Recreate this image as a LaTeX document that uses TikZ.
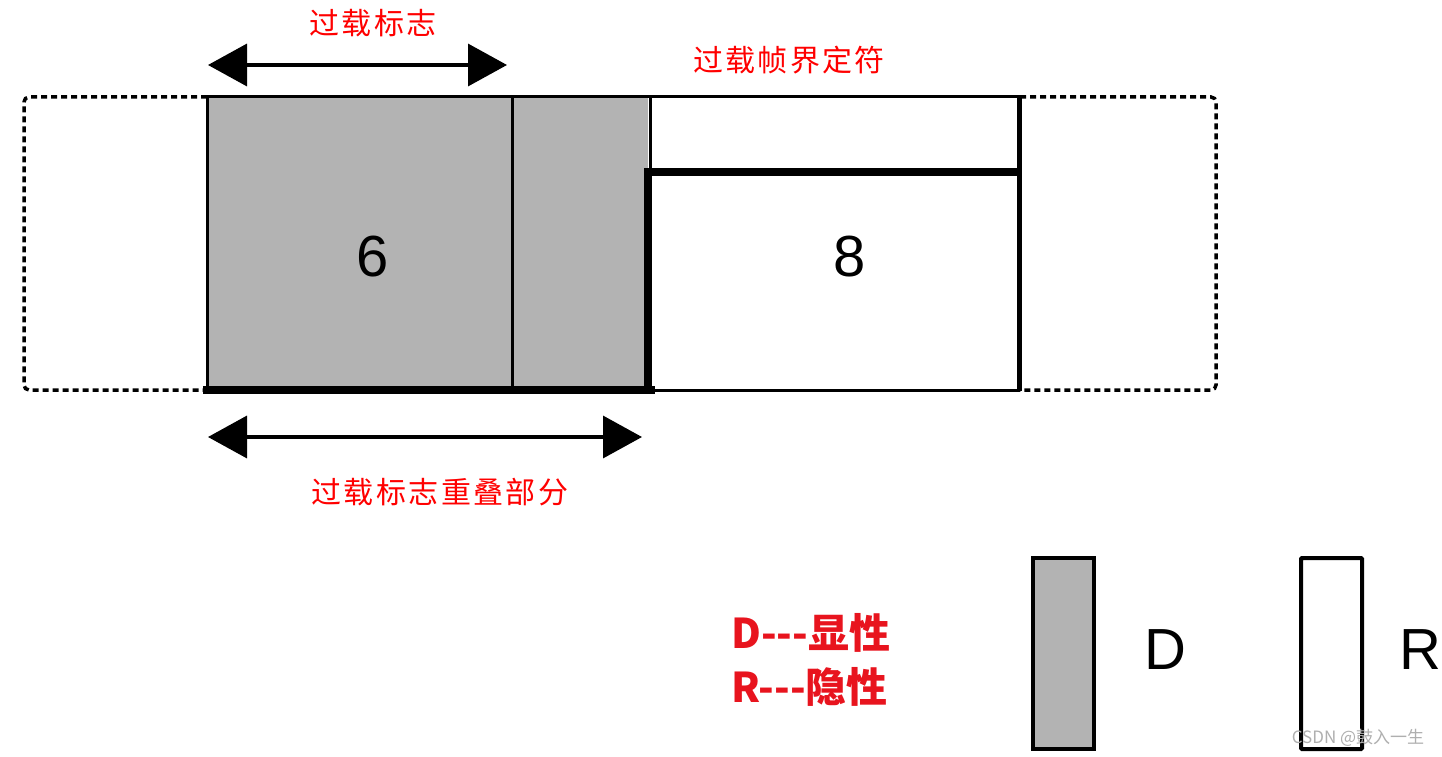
\documentclass[tikz,border=0pt]{standalone}
\usepackage{fontspec}
\setmainfont{Liberation Sans}
\newfontfamily\cjk{Noto Sans CJK SC}
\newfontfamily\cjksp[LetterSpace=8]{Noto Sans CJK SC}
\usetikzlibrary{arrows.meta}
\definecolor{dgray}{RGB}{179,179,179}
\definecolor{lred}{RGB}{255,0,0}
\definecolor{bred}{RGB}{232,20,30}
\definecolor{wm}{RGB}{175,175,175}
\tikzset{
  dashbox/.style={line width=3.5pt, dash pattern=on 6pt off 4pt, rounded corners=5pt},
  thinline/.style={line width=3pt},
  thickline/.style={line width=8pt, miter limit=10},
  biarrow/.style={line width=3.5pt, {Triangle[length=39pt,width=42pt]}-{Triangle[length=39pt,width=42pt]}},
  redlabel/.style={text=lred, font=\cjksp\fontsize{30}{32}\selectfont, inner sep=0pt},
  bignum/.style={font=\fontsize{58}{60}\selectfont, inner sep=0pt},
  legend/.style={text=bred, font=\cjk\bfseries\fontsize{41}{44}\selectfont, inner sep=0pt, anchor=west}
}
\begin{document}
\begin{tikzpicture}[x=1pt,y=-1pt]
\useasboundingbox (0,0) rectangle (1442,757);
\fill[white] (0,0) rectangle (1442,757);
% dashed outer boxes
\draw[dashbox] (207,97) -- (24,97) -- (24,390) -- (207,390);
\draw[dashbox] (1020,97) -- (1216,97) -- (1216,390) -- (1020,390);
% gray dominant region
\fill[dgray] (207,97) rectangle (648,390);
\draw[thinline] (207,97) -- (1020,97);
\draw[thinline] (207,97) -- (207,390);
\draw[thinline] (512,97) -- (512,390);
\draw[thinline] (650,97) -- (650,172);
\draw[thinline] (650,390) -- (1020,390);
\draw[thickline] (203,390) -- (655,390);
\draw[thickline] (648,390) -- (648,172) -- (1020,172);
\draw[line width=5pt] (1019,96) -- (1019,391);
% numbers
\node[bignum] (six) at (373,257) {6};
\node[bignum] (eight) at (850,257) {8};
% arrows
\coordinate (a1l) at (208,65);
\coordinate (a1r) at (507,65);
\draw[biarrow] (a1l) -- (a1r);
\coordinate (a2l) at (208,437);
\coordinate (a2r) at (642,437);
\draw[biarrow] (a2l) -- (a2r);
% labels
\node[redlabel] (flag) at (373,23) {过载标志};
\node[redlabel] (delim) at (789,60) {过载帧界定符};
\node[redlabel] (overlap) at (440,492) {过载标志重叠部分};
% legend
\node[legend] (ld) at (731,633) {D---显性};
\node[legend] (lr) at (731,687) {R---隐性};
\node[draw, line width=4pt, fill=dgray, minimum width=61pt, minimum height=191pt, inner sep=0pt] (dbox) at (1063.5,653) {};
\node[bignum] (dtxt) at (1165,650) {D};
\node[draw, line width=4pt, fill=white, rounded corners=1pt, minimum width=61pt, minimum height=191pt, inner sep=0pt] (rbox) at (1331.5,653.5) {};
\node[bignum] (rtxt) at (1420,650) {R};
\node[text=wm, font=\cjk\fontsize{17}{18}\selectfont, inner sep=0pt] (mark) at (1358,738) {CSDN @鼓入一生};
\end{tikzpicture}
\end{document}
